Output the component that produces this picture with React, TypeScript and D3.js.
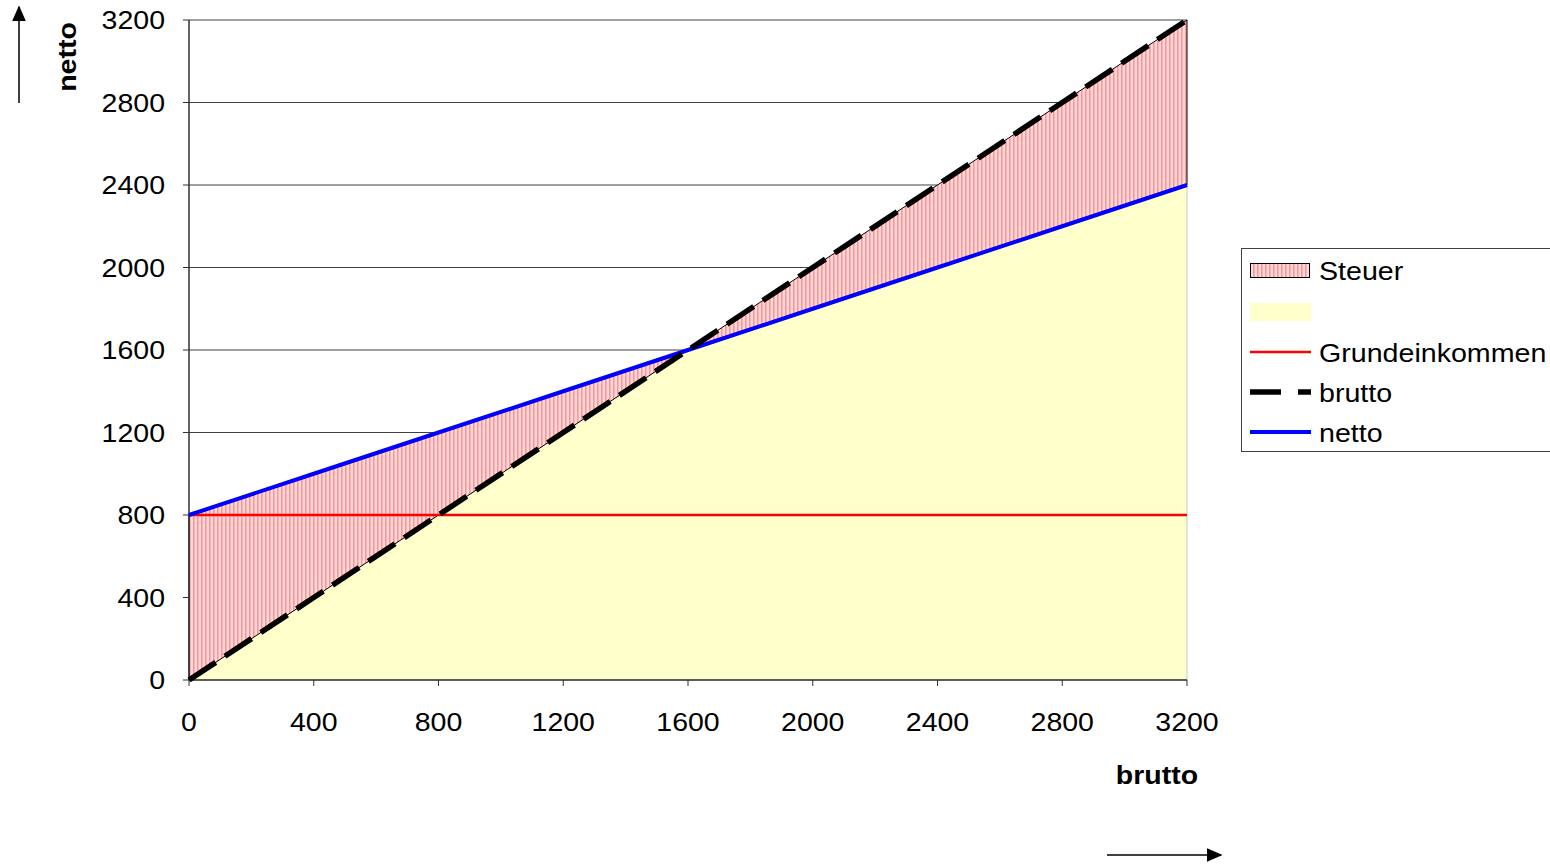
import * as d3 from "d3";
import React, { useEffect, useRef } from "react";

// brutto income steps (x) and the three series
const bruttoX = [0, 400, 800, 1200, 1600, 2000, 2400, 2800, 3200];
const bruttoY = [0, 400, 800, 1200, 1600, 2000, 2400, 2800, 3200];
const nettoY = [800, 1000, 1200, 1400, 1600, 1800, 2000, 2200, 2400];
const grundY = [800, 800, 800, 800, 800, 800, 800, 800, 800];
const ticks = [0, 400, 800, 1200, 1600, 2000, 2400, 2800, 3200];
const legendLabels = ["Steuer", "", "Grundeinkommen", "brutto", "netto"];

const FONT = "'Liberation Sans', Arial, sans-serif";

export default function App() {
    const svgRef = useRef<SVGSVGElement>(null);

    useEffect(() => {
        const svg = d3.select(svgRef.current);
        svg.selectAll("*").remove();

        const margin = { top: 20, left: 189 };
        const width = 998;
        const height = 660;

        const x = d3.scaleLinear().domain([0, 3200]).range([margin.left, margin.left + width]);
        const y = d3.scaleLinear().domain([0, 3200]).range([margin.top + height, margin.top]);

        const rows = bruttoX.map((b, i) => ({ x: b, brutto: bruttoY[i], netto: nettoY[i], grund: grundY[i] }));

        // hatch for Steuer
        const defs = svg.append("defs");
        const pat = defs.append("pattern")
            .attr("id", "hatch")
            .attr("patternUnits", "userSpaceOnUse")
            .attr("width", 4).attr("height", 4);
        pat.append("rect").attr("width", 4).attr("height", 4).attr("fill", "#ffdada");
        pat.append("rect").attr("x", 1).attr("width", 1.6).attr("height", 4).attr("fill", "#ff9494");

        function label(g: any, tx: number, ty: number, txt: string, size: number, anchor: string, sx: number, bold = false, rot = 0) {
            return g.append("text")
                .attr("transform", `translate(${tx},${ty}) rotate(${rot}) scale(${sx},1)`)
                .attr("text-anchor", anchor)
                .attr("font-family", FONT)
                .attr("font-size", size)
                .attr("font-weight", bold ? "bold" : "normal")
                .attr("fill", "#000")
                .text(txt);
        }

        // gridlines
        svg.append("g").selectAll("line").data(ticks.slice(1)).join("line")
            .attr("x1", x(0)).attr("x2", x(3200))
            .attr("y1", d => y(d)).attr("y2", d => y(d))
            .attr("stroke", "#404040").attr("stroke-width", 1);

        // yellow area under min(brutto, netto)
        const lowArea = d3.area<any>()
            .x(d => x(d.x))
            .y0(y(0))
            .y1(d => y(Math.min(d.brutto, d.netto)));
        svg.append("path").datum(rows)
            .attr("d", lowArea)
            .attr("fill", "#ffffcc")
            .attr("stroke", "#c8c8c8").attr("stroke-width", 1);

        // Steuer: between brutto and netto
        const taxArea = d3.area<any>()
            .x(d => x(d.x))
            .y0(d => y(Math.min(d.brutto, d.netto)))
            .y1(d => y(Math.max(d.brutto, d.netto)));
        svg.append("path").datum(rows)
            .attr("d", taxArea)
            .attr("fill", "url(#hatch)")
            .attr("stroke", "#000").attr("stroke-width", 1);

        // axes
        const yAxis = svg.append("g");
        yAxis.append("line")
            .attr("x1", x(0)).attr("x2", x(0)).attr("y1", y(0)).attr("y2", y(3200))
            .attr("stroke", "#303030").attr("stroke-width", 1.5);
        yAxis.selectAll("line.t").data(ticks).join("line").attr("class", "t")
            .attr("x1", x(0) - 6).attr("x2", x(0))
            .attr("y1", d => y(d)).attr("y2", d => y(d))
            .attr("stroke", "#303030");
        ticks.forEach(t => label(yAxis, x(0) - 24, y(t) + 9, String(t), 25, "end", 1.14));

        const xAxis = svg.append("g");
        xAxis.append("line")
            .attr("x1", x(0)).attr("x2", x(3200)).attr("y1", y(0)).attr("y2", y(0))
            .attr("stroke", "#303030").attr("stroke-width", 1.5);
        xAxis.selectAll("line.t").data(ticks).join("line").attr("class", "t")
            .attr("x1", d => x(d)).attr("x2", d => x(d))
            .attr("y1", y(0)).attr("y2", y(0) + 6)
            .attr("stroke", "#303030");
        ticks.forEach(t => label(xAxis, x(t), y(0) + 51, String(t), 25, "middle", 1.14));

        // lines
        const line = (key: string) => d3.line<any>().x(d => x(d.x)).y(d => y(d[key]));
        svg.append("path").datum(rows).attr("d", line("grund"))
            .attr("fill", "none").attr("stroke", "#ff0000").attr("stroke-width", 2.5);
        svg.append("path").datum(rows).attr("d", line("netto"))
            .attr("fill", "none").attr("stroke", "#0000ff").attr("stroke-width", 4);
        svg.append("path").datum(rows).attr("d", line("brutto"))
            .attr("fill", "none").attr("stroke", "#000").attr("stroke-width", 5.5)
            .attr("stroke-dasharray", "32 11");

        // axis titles and arrows
        label(svg, 1157, 784, "brutto", 25, "middle", 1.14, true);
        label(svg, 76, 57, "netto", 25, "middle", 1.14, true, -90);

        defs.append("marker").attr("id", "arr")
            .attr("viewBox", "0 0 10 10").attr("refX", 9).attr("refY", 5)
            .attr("markerWidth", 16).attr("markerHeight", 14).attr("markerUnits", "userSpaceOnUse")
            .attr("orient", "auto")
            .attr("preserveAspectRatio", "none")
            .append("path").attr("d", "M0,0 L10,5 L0,10 Z").attr("fill", "#000");
        svg.append("line").attr("x1", 19).attr("y1", 103).attr("x2", 19).attr("y2", 7)
            .attr("stroke", "#000").attr("stroke-width", 1.5).attr("marker-end", "url(#arr)");
        svg.append("line").attr("x1", 1107).attr("y1", 855).attr("x2", 1221).attr("y2", 855)
            .attr("stroke", "#000").attr("stroke-width", 1.5).attr("marker-end", "url(#arr)");

        // legend
        const lg = svg.append("g");
        lg.append("rect").attr("x", 1241.5).attr("y", 248.5).attr("width", 330).attr("height", 203)
            .attr("fill", "#fff").attr("stroke", "#404040").attr("stroke-width", 1);
        const rowY = [270, 312, 352, 392, 432];
        legendLabels.forEach((name, i) => {
            const cy = rowY[i];
            if (i === 0) {
                lg.append("rect").attr("x", 1250.5).attr("y", cy - 6.5).attr("width", 59).attr("height", 14)
                    .attr("fill", "url(#hatch)").attr("stroke", "#000");
            } else if (i === 1) {
                lg.append("rect").attr("x", 1250).attr("y", cy - 9).attr("width", 61).attr("height", 18)
                    .attr("fill", "#ffffcc");
            } else if (i === 2) {
                lg.append("line").attr("x1", 1250).attr("x2", 1311).attr("y1", cy).attr("y2", cy)
                    .attr("stroke", "#ff0000").attr("stroke-width", 2.5);
            } else if (i === 3) {
                lg.append("line").attr("x1", 1250).attr("x2", 1311).attr("y1", cy).attr("y2", cy)
                    .attr("stroke", "#000").attr("stroke-width", 5.5).attr("stroke-dasharray", "31 17");
            } else {
                lg.append("line").attr("x1", 1250).attr("x2", 1311).attr("y1", cy).attr("y2", cy)
                    .attr("stroke", "#0000ff").attr("stroke-width", 4);
            }
            if (name) label(lg, 1319, cy + 9.5, name, 26, "start", 1.1);
        });
    }, []);

    return <svg ref={svgRef} width={1550} height={864}
        style={{ position: "absolute", left: 0, top: 0, background: "#fff" }} />;
}
